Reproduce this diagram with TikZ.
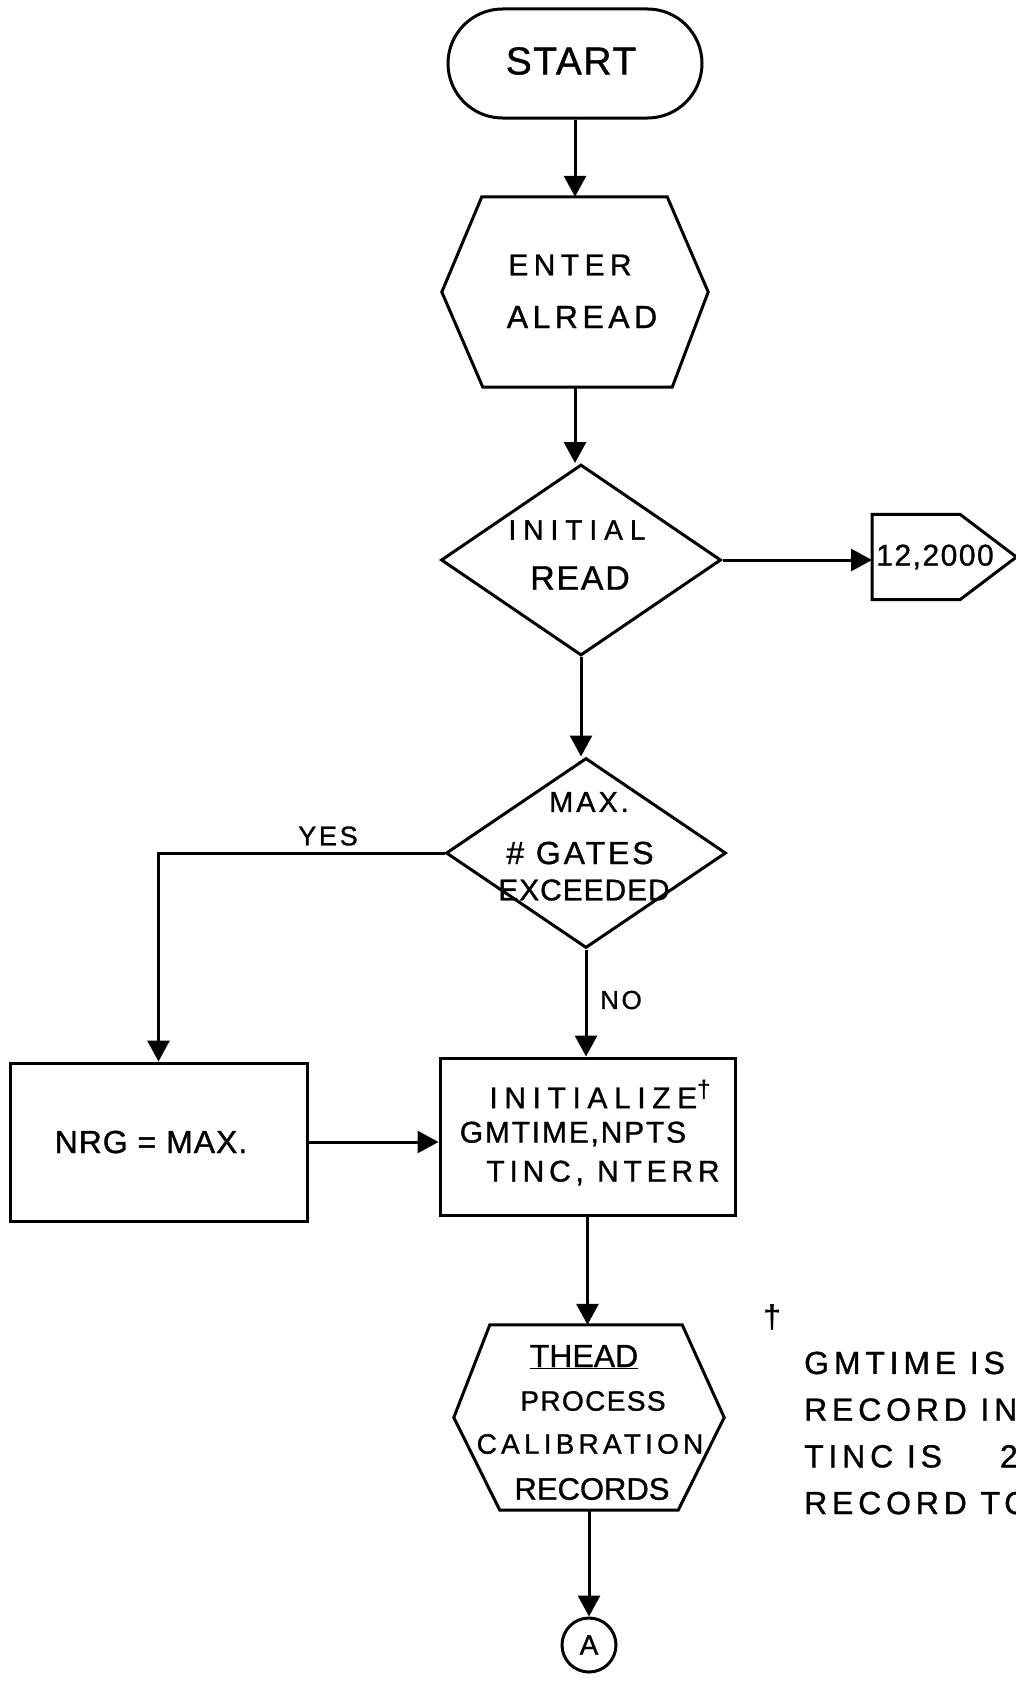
\documentclass[tikz,border=0pt]{standalone}
\usepackage{fontspec}
\setmainfont{Liberation Sans}[LetterSpace=15,FakeBold=1]
\newcommand\LS[1]{\addfontfeature{LetterSpace=#1}}
\usetikzlibrary{arrows.meta,shapes.geometric,shapes.misc}
\begin{document}
\begin{tikzpicture}[x=1pt,y=-1pt,
  ln/.style={line width=3pt},
  arr/.style={ln,-{Triangle[length=21pt,width=22pt]}},
  box/.style={draw,ln,rectangle,inner sep=0pt,align=center},
  ghost/.style={rectangle,inner sep=0pt},
  txt/.style={inner sep=0pt,align=center},
  fs/.style 2 args={font=\fontsize{#1}{#1}\selectfont\LS{#2}}
]
\fill[white] (0,0) rectangle (1016,1686);
\useasboundingbox (0,0) rectangle (1016,1686);

% START
\node[draw,ln,rounded rectangle,minimum width=254pt,minimum height=109pt,inner sep=0pt] (start) at (575,63.5) {};
\node[txt,fs={39}{4}] (starttxt) at (571,61) {START};

% ENTER ALREAD hexagon
\node[ghost,minimum width=266pt,minimum height=190pt] (enter) at (575,292) {};
\draw[ln] (enter.west) -- ([xshift=40pt]enter.north west) -- ([xshift=-41pt]enter.north east) -- (enter.east) -- ([xshift=-36pt]enter.south east) -- ([xshift=41pt]enter.south west) -- cycle;
\node[txt,fs={30}{18}] (enter1) at (570,265) {ENTER};
\node[txt,fs={32}{14}] (enter2) at (582,317) {ALREAD};
\draw[arr] (start.south) -- (start.south |- enter.north);

% INITIAL READ diamond
\node[draw,ln,diamond,minimum width=280pt,minimum height=191pt,inner sep=0pt] (read) at (581,560) {};
\node[txt,fs={28}{25}] (read1) at (577,530) {INITIAL};
\node[txt,fs={34}{5}] (read2) at (580,578) {READ};
\draw[arr] (enter.south) -- (enter.south |- read.north);

% off-page connector
\node[ghost,minimum width=144pt,minimum height=85pt,anchor=west] (off) at (872,557) {};
\draw[ln] (off.north west) -- ([xshift=88pt]off.north west) -- (off.east) -- ([xshift=88pt]off.south west) -- (off.south west) -- cycle;
\node[txt,fs={30}{5}] (offtxt) at (935,557) {12,2000};
\draw[arr] (read.east) -- (read.east -| off.west);

% MAX # GATES diamond
\node[draw,ln,diamond,minimum width=280pt,minimum height=190pt,inner sep=0pt] (gates) at (586,853) {};
\node[txt,fs={29}{10}] (g1) at (589,802) {MAX.};
\node[txt,fs={32}{9}] (g2) at (580,853) {\# GATES};
\node[txt,fs={30}{3}] (g3) at (584,890) {EXCEEDED};
\draw[arr] (read.south) -- (read.south |- gates.north);

% NRG box
\node[box,minimum width=297pt,minimum height=158pt] (nrg) at (158.5,1142) {};
\node[txt,fs={32}{3}] (nrgtxt) at (151,1142) {NRG = MAX.};
\draw[arr] (gates.west) -| (nrg.north);
\node[txt,fs={27}{10}] (yes) at (328,836) {YES};

% INITIALIZE box
\node[box,minimum width=295pt,minimum height=157pt] (init) at (587.5,1136.5) {};
\node[txt,fs={30}{22}] (i1) at (600,1094) {INITIALIZE{\fontsize{24}{24}\selectfont\LS{0}\raisebox{11pt}{†}}};
\node[txt,fs={30}{6}] (i2) at (573,1134) {GMTIME,NPTS};
\node[txt,fs={30}{16}] (i3) at (603,1173) {TINC, NTERR};
\draw[arr] (gates.south) -- (gates.south |- init.north);
\node[txt,fs={26}{10}] (no) at (621,1000) {NO};
\draw[arr] (nrg.east) -- (nrg.east -| init.west);

% THEAD hexagon
\node[ghost,minimum width=270pt,minimum height=185pt] (thead) at (589,1417.5) {};
\draw[ln] (thead.west) -- ([xshift=36pt]thead.north west) -- ([xshift=-42pt]thead.north east) -- (thead.east) -- ([xshift=-46pt]thead.south east) -- ([xshift=46pt]thead.south west) -- cycle;
\node[txt,fs={32}{0}] (t1) at (584,1357) {\underline{THEAD}};
\node[txt,fs={28}{5}] (t2) at (593,1401) {PROCESS};
\node[txt,fs={28}{15}] (t3) at (590,1444) {CALIBRATION};
\node[txt,fs={31}{0}] (t4) at (592,1489) {RECORDS};
\draw[arr] (init.south) -- (init.south |- thead.north);

% connector A
\node[draw,ln,circle,minimum size=54pt,inner sep=0pt,fs={28}{0}] (A) at (589,1645) {A};
\draw[arr] (thead.south) -- (thead.south |- A.north);

% footnote
\node[txt,fs={32}{0}] (dag) at (772,1317) {†};
\node[inner sep=0pt,align=left,anchor=west,font=\fontsize{32}{46.7}\selectfont] (note) at (804,1433) {GMTIME IS\\RECORD IN\\TINC IS\hspace{58pt}2\\RECORD TO};
\end{tikzpicture}
\end{document}
